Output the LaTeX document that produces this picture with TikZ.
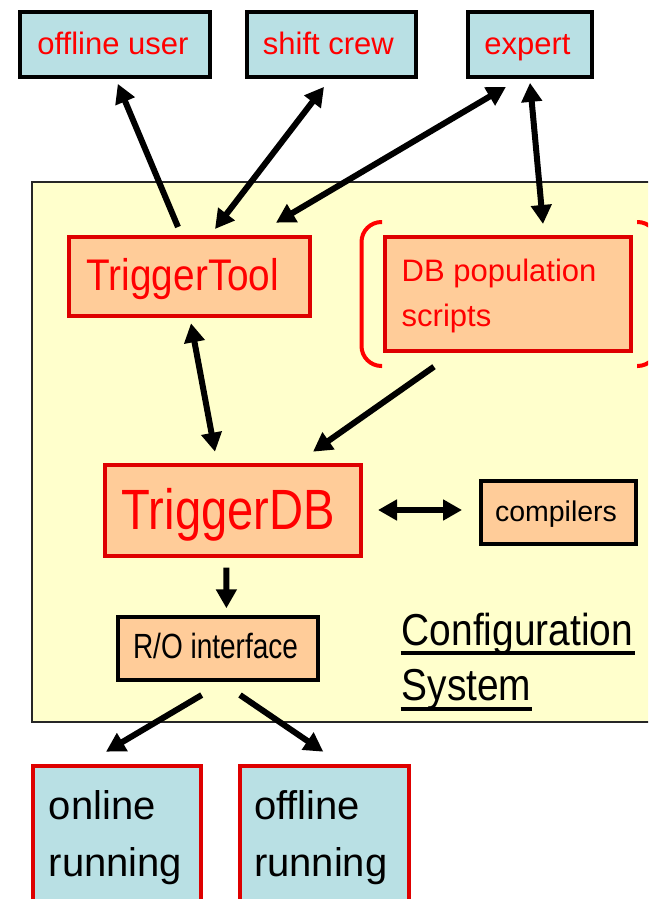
\documentclass[tikz,border=0pt]{standalone}
\usepackage{fontspec}
\usepackage{graphicx}
\setmainfont{Liberation Sans}
\usetikzlibrary{arrows.meta}
\definecolor{lblue}{RGB}{185,224,228}
\definecolor{peach}{RGB}{255,204,153}
\definecolor{pyellow}{RGB}{255,255,204}
\definecolor{dred}{RGB}{222,0,0}
\definecolor{tred}{RGB}{255,0,0}
\newcommand{\fsz}[1]{\fontsize{#1}{#1}\selectfont}
\tikzset{
  userbox/.style={draw=black, line width=4pt, fill=lblue, inner sep=0pt, outer sep=2pt},
  redbox/.style={draw=dred, line width=4pt, fill=peach, inner sep=0pt, outer sep=2pt},
  blackbox/.style={draw=black, line width=4pt, fill=peach, inner sep=0pt, outer sep=2pt},
  runbox/.style={draw=dred, line width=4pt, fill=lblue, inner sep=0pt, outer sep=2pt},
  lbl/.style={anchor=base, inner sep=0pt, outer sep=0pt},
  lbll/.style={anchor=base west, inner sep=0pt, outer sep=0pt},
  arr/.style={line width=6pt, -{Triangle[length=19pt,width=20pt]}},
  darr/.style={line width=6pt, {Triangle[length=19pt,width=20pt]}-{Triangle[length=19pt,width=20pt]}},
  brack/.style={draw=tred, line width=4pt, rounded corners=20pt},
}
\begin{document}
\begin{tikzpicture}[x=1pt,y=-1pt]
\clip (0,0) rectangle (648,899);
\fill[white] (0,0) rectangle (648,899);

% configuration system frame
\node[draw=black!85, line width=2pt, fill=pyellow, inner sep=0pt, minimum width=700pt, minimum height=540pt] (sys) at (382,452) {};

% top boxes
\node[userbox, minimum width=190pt, minimum height=65pt] (ou) at (114.7,44.35) {};
\node[userbox, minimum width=169.4pt, minimum height=65pt] (sc) at (331.3,44.35) {};
\node[userbox, minimum width=124pt, minimum height=65pt] (ex) at (529.75,44.35) {};
\node[lbl, text=tred, font=\fsz{31}] (tou) at (112.9,54.3) {offline user};
\node[lbl, text=tred, font=\fsz{31}] (tsc) at (328.4,54.3) {shift crew};
\node[lbl, text=tred, font=\fsz{31}] (tex) at (527.5,54.3) {expert};

% inner boxes
\node[redbox, minimum width=241pt, minimum height=79.3pt] (tt) at (189.2,276.65) {};
\node[lbl, text=tred, font=\fsz{44.3}] (ttt) at (182.9,290) {\scalebox{0.875}[1]{TriggerTool}};

\node[redbox, minimum width=246pt, minimum height=114.3pt] (dbp) at (508.3,294.15) {};
\node[lbll, text=tred, font=\fsz{31}] (tdbp1) at (401.7,281.7) {DB population};
\node[lbll, text=tred, font=\fsz{31}] (tdbp2) at (401.7,326.7) {scripts};
\draw[brack] (382,222) -- (361.5,222) -- (361.5,366) -- (382,366);
\draw[brack] (637,222) -- (657.5,222) -- (657.5,366) -- (637,366);

\node[redbox, minimum width=256pt, minimum height=91pt] (tdb) at (233.3,510.8) {};
\node[lbl, text=tred, font=\fsz{56.8}] (ttdb) at (228.4,529) {\scalebox{0.83}[1]{TriggerDB}};

\node[blackbox, minimum width=155pt, minimum height=62.7pt] (comp) at (558.85,512.65) {};
\node[lbl, font=\fsz{28.5}] (tcomp) at (556,521.7) {compilers};

\node[blackbox, minimum width=200pt, minimum height=62.7pt] (ro) at (218,648.35) {};
\node[lbl, font=\fsz{35}] (tro) at (215.5,658.3) {\scalebox{0.8}[1]{R/O interface}};

\node[lbll, font=\fsz{44.7}] (cfg) at (401.7,645) {\scalebox{0.87}[1]{Configuration}};
\node[lbll, font=\fsz{44.7}] (csys) at (401.7,700) {\scalebox{0.87}[1]{System}};
\draw[line width=4pt] ([shift={(-1,8)}]cfg.base west) -- ([shift={(2,8)}]cfg.base east);
\draw[line width=4pt] ([shift={(-1,9)}]csys.base west) -- ([shift={(1,9)}]csys.base east);

% bottom boxes
\node[runbox, minimum width=168pt, minimum height=152pt] (onr) at (117,842) {};
\node[runbox, minimum width=169.4pt, minimum height=152pt] (ofr) at (324.3,842) {};
\node[lbll, font=\fsz{40}] (tonr1) at (48.8,819.3) {online};
\node[lbll, font=\fsz{40}] (tonr2) at (48.8,876.7) {running};
\node[lbll, font=\fsz{40}] (tofr1) at (254,819.3) {offline};
\node[lbll, font=\fsz{40}] (tofr2) at (254,876.7) {running};

% connectors
\draw[arr] ([shift={(-11.2,-8)}]tt.north) -- ([shift={(3.1,5)}]ou.south);
\draw[darr] ([shift={(-7.3,8)}]sc.south) -- ([shift={(25.8,-6)}]tt.north);
\draw[darr] ([shift={(-23.75,8)}]ex.south) -- ([shift={(86.8,-12.3)}]tt.north);
\draw[darr] ([shift={(0.25,4)}]ex.south) -- ([shift={(34.7,-11)}]dbp.north);
\draw[darr] ([shift={(1.8,5)}]tt.south) -- ([shift={(-18.3,-11.6)}]tdb.north);
\draw[arr] ([shift={(-74.3,13.4)}]dbp.south) -- ([shift={(79.7,-11.6)}]tdb.north);
\draw[darr] ([shift={(14.7,-0.8)}]tdb.east) -- ([shift={(-17.3,-2.65)}]comp.west);
\draw[arr] ([shift={(-6.9,9.4)}]tdb.south) -- ([shift={(8.4,-6.7)}]ro.north);
\draw[arr] ([shift={(-16.3,13.3)}]ro.south) -- ([shift={(-11,-12.3)}]onr.north);
\draw[arr] ([shift={(22,13.3)}]ro.south) -- ([shift={(-1,-12.3)}]ofr.north);
\end{tikzpicture}
\end{document}
